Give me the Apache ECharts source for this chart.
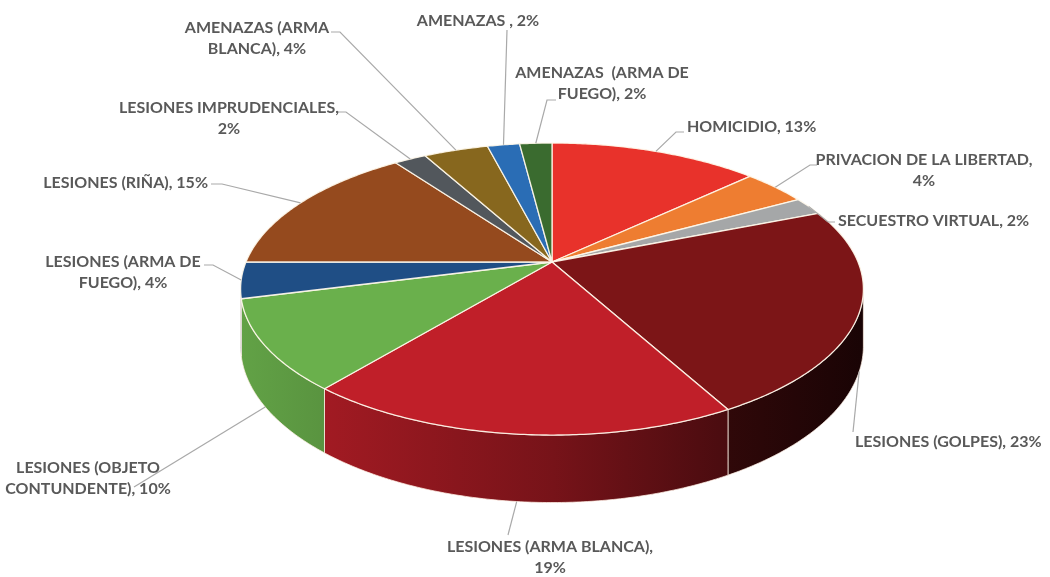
<!DOCTYPE html>
<html><head><meta charset="utf-8">
<script src="https://cdn.jsdelivr.net/npm/echarts@6/dist/echarts.min.js"></script>
<style>html,body{margin:0;padding:0;background:#fff}#c{width:1050px;height:577px}</style>
</head><body><div id="c"></div>
<script>
// ---- data ----
const categories = ['HOMICIDIO', 'PRIVACION DE LA LIBERTAD', 'SECUESTRO VIRTUAL', 'LESIONES (GOLPES)',
  'LESIONES (ARMA BLANCA)', 'LESIONES (OBJETO CONTUNDENTE)', 'LESIONES (ARMA DE FUEGO)', 'LESIONES (RIÑA)',
  'LESIONES IMPRUDENCIALES', 'AMENAZAS (ARMA BLANCA)', 'AMENAZAS ', 'AMENAZAS  (ARMA DE FUEGO)'];
const values = [13, 4, 2, 23, 19, 10, 4, 15, 2, 4, 2, 2];
const colors = ['#e8322b', '#ee7d31', '#a5a7a8', '#7c1517', '#c01f29', '#6ab04c', '#1f4e85',
  '#954a1e', '#52575c', '#87671e', '#2a6db5', '#3a6b2f'];

// ---- label layout (positions only) ----
const labelLayout = [
  {x: 687, y: 127, align: 'left', wrap: 0, anchor: 0, pts: [[676, 132], [684, 132]]},
  {x: 924, y: 160, align: 'center', wrap: 4, anchor: 0, pts: [[810, 165], [817, 165]]},
  {x: 838, y: 221, align: 'left', wrap: 0, anchor: 0, pts: [[828, 222], [835, 222]]},
  {x: 855, y: 442, align: 'left', wrap: 0, anchor: 1, pts: [[853, 432]]},
  {x: 550, y: 547, align: 'center', wrap: 3, anchor: 1, pts: [[508, 535]]},
  {x: 88, y: 468, align: 'center', wrap: 2, anchor: 1, pts: [[134, 487]]},
  {x: 123, y: 262, align: 'center', wrap: 3, anchor: 0, pts: [[213, 265], [204, 265]]},
  {x: 208, y: 183, align: 'right', wrap: 0, anchor: 0, pts: [[222, 184], [211, 184]]},
  {x: 229, y: 108, align: 'center', wrap: 2, anchor: 0, pts: [[346, 112], [338, 112]]},
  {x: 257, y: 28, align: 'center', wrap: 2, anchor: 0, pts: [[340, 32], [331, 32]]},
  {x: 478, y: 21, align: 'center', wrap: 0, anchor: 0, pts: [[507, 30]]},
  {x: 602, y: 73, align: 'center', wrap: 4, anchor: 0, pts: [[547, 100], [556, 100]]}
];

// ---- geometry ----
const CX = 552, CY = 262, R = 306, B = 141, D = 5.4, H = 55;
const total = values.reduce((a, b) => a + b, 0);
const cum = [];
values.reduce((a, v, i) => { cum[i] = a; return a + v; }, 0);
const TV1 = Math.acos(-1 / D), TV2 = 2 * Math.PI - TV1;

function P(t, d) {
  const X = Math.sin(t), Z = Math.cos(t), s = D / (D + Z);
  return [CX + R * X * s, CY - B * Z * s + H * s * d];
}
function arc(a, b, d) {
  const n = Math.max(2, Math.ceil((b - a) / 0.01));
  const out = [];
  for (let k = 0; k <= n; k++) out.push(P(a + (b - a) * k / n, d));
  return out;
}
function shade(hex, f) {
  const n = parseInt(hex.slice(1), 16);
  const r = Math.round(((n >> 16) & 255) * f), g = Math.round(((n >> 8) & 255) * f), b = Math.round((n & 255) * f);
  return 'rgb(' + r + ',' + g + ',' + b + ')';
}
function labelText(i) {
  const full = categories[i] + ', ' + values[i] + '%';
  const w = labelLayout[i].wrap;
  if (!w) return full;
  const parts = full.split(' ');
  return parts.slice(0, w).join(' ') + '\n' + parts.slice(w).join(' ');
}

function renderItem(params, api) {
  const i = params.dataIndex;
  const v = api.value(0);
  const t1 = cum[i] / total * 2 * Math.PI;
  const t2 = (cum[i] + v) / total * 2 * Math.PI;
  const col = colors[i];
  const children = [];
  // top face
  children.push({
    type: 'polygon', z2: 10,
    shape: {points: [[CX, CY]].concat(arc(t1, t2, 0))},
    style: {fill: col, stroke: 'rgba(255,248,235,0.9)', lineWidth: 1.3, lineJoin: 'round'}
  });
  // outer wall (front)
  const a = Math.max(t1, TV1), b = Math.min(t2, TV2);
  if (b > a) {
    const pts = arc(a, b, 0).concat(arc(a, b, 1).reverse());
    children.push({
      type: 'polygon', z2: 1,
      shape: {points: pts},
      style: {
        fill: {type: 'linear', x: 240, y: 0, x2: 865, y2: 0, global: true,
          colorStops: [{offset: 0, color: shade(col, 0.92)}, {offset: 0.5, color: shade(col, 0.62)},
            {offset: 1, color: shade(col, 0.2)}]},
        stroke: 'rgba(255,240,230,0.75)', lineWidth: 1
      }
    });
  }
  // leader line + label
  const L = labelLayout[i];
  const tm = (t1 + t2) / 2;
  const start = P(tm, (tm > TV1 && tm < TV2) ? L.anchor : 0);
  children.push({
    type: 'polyline', z2: 20,
    shape: {points: [start].concat(L.pts)},
    style: {stroke: '#a9a9a9', lineWidth: 1.2, fill: null}
  });
  children.push({
    type: 'text', z2: 21,
    style: {
      text: labelText(i), x: L.x, y: L.y - 10.5, align: L.align, verticalAlign: 'top',
      font: 'bold 16px Lato', fill: '#595959', lineHeight: 21
    }
  });
  return {type: 'group', children: children};
}

const chart = echarts.init(document.getElementById('c'));
chart.setOption({
  backgroundColor: '#fff',
  animation: false,
  series: [{
    type: 'custom',
    coordinateSystem: 'none',
    renderItem: renderItem,
    data: values.map((v, i) => ({name: categories[i], value: [v]}))
  }]
});
</script></body></html>
